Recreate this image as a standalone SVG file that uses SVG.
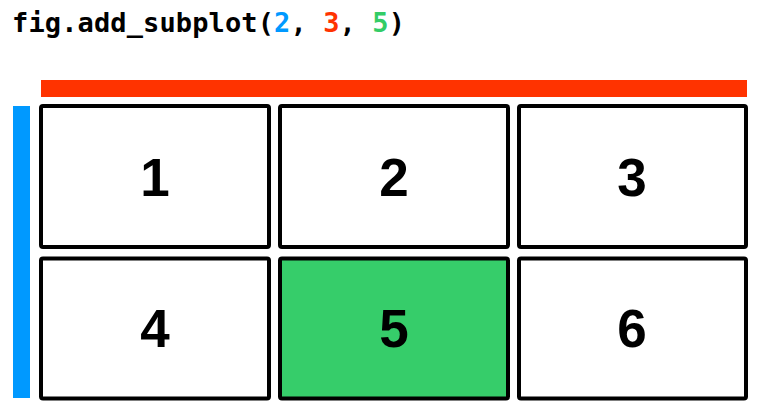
<svg xmlns="http://www.w3.org/2000/svg" width="763" height="418" viewBox="0 0 763 418">
<style>
.cell{fill:#ffffff;stroke:#000000;stroke-width:4}
.sel{fill:#36cd6a}
.num{font-family:"Liberation Sans",Arial,sans-serif;font-weight:bold;font-size:53px;text-anchor:middle;fill:#000}
.code{font-family:"DejaVu Sans Mono","Liberation Mono",monospace;font-weight:bold;font-size:27px;fill:#000}
</style>
<rect width="763" height="418" fill="#ffffff"/>
<text class="code" x="12" y="32" textLength="393" lengthAdjust="spacing">fig.add_subplot(<tspan fill="#0099ff">2</tspan>, <tspan fill="#ff3300">3</tspan>, <tspan fill="#33cc66">5</tspan>)</text>
<rect id="colbar" x="41" y="80" width="706" height="17" fill="#ff3300"/>
<rect id="rowbar" x="13" y="106" width="17" height="292" fill="#0099ff"/>
<g id="cell1"><rect class="cell" x="41" y="106" width="228" height="141" rx="2"/><text class="num" x="155" y="196">1</text></g>
<g id="cell2"><rect class="cell" x="280" y="106" width="228" height="141" rx="2"/><text class="num" x="394" y="196">2</text></g>
<g id="cell3"><rect class="cell" x="519" y="106" width="227" height="141" rx="2"/><text class="num" x="632" y="196">3</text></g>
<g id="cell4"><rect class="cell" x="41" y="258.5" width="228" height="140" rx="2"/><text class="num" x="155" y="347">4</text></g>
<g id="cell5"><rect class="cell sel" x="280" y="258.5" width="228" height="140" rx="2"/><text class="num" x="394" y="347">5</text></g>
<g id="cell6"><rect class="cell" x="519" y="258.5" width="227" height="140" rx="2"/><text class="num" x="632" y="347">6</text></g>
<g id="connectors"></g>
</svg>
